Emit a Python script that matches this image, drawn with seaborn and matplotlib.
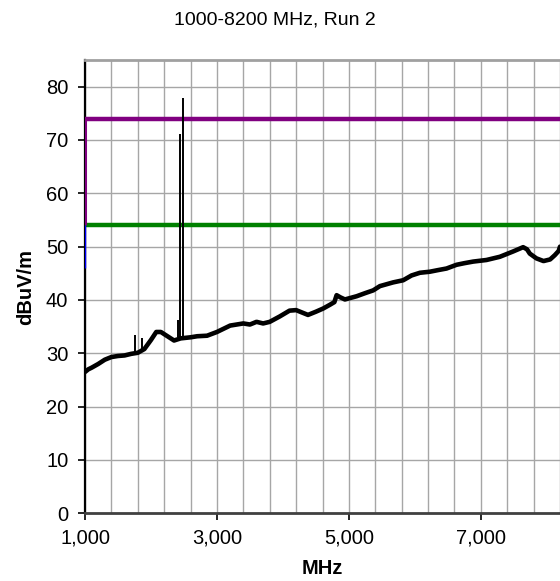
import numpy as np
import pandas as pd
import matplotlib
matplotlib.use("Agg")
import matplotlib.pyplot as plt
from matplotlib.ticker import FuncFormatter, FixedLocator
import seaborn as sns

# ---- data ----
freq_mhz = [1000, 1050, 1100, 1200, 1300, 1400, 1500, 1600, 1700, 1800, 1900, 2000,
            2080, 2150, 2200, 2300, 2350, 2450, 2600, 2700, 2850, 3000, 3100, 3200,
            3300, 3400, 3500, 3600, 3700, 3800, 3950, 4100, 4200, 4300, 4380, 4500,
            4610, 4712, 4780, 4814, 4870, 4940, 5117, 5250, 5368, 5470, 5671, 5823,
            5950, 6076, 6227, 6350, 6480, 6632, 6750, 6884, 7086, 7288, 7490, 7641,
            7700, 7742, 7843, 7950, 8050, 8121, 8180, 8200]
level_dbuv = [26.5, 27.0, 27.3, 28.0, 28.8, 29.3, 29.5, 29.6, 29.9, 30.1, 30.8, 32.5,
              34.0, 34.0, 33.6, 32.8, 32.4, 32.8, 33.0, 33.2, 33.3, 34.0, 34.6, 35.2,
              35.4, 35.6, 35.4, 35.9, 35.6, 35.9, 36.9, 38.0, 38.1, 37.6, 37.2, 37.8,
              38.4, 39.1, 39.6, 40.9, 40.5, 40.1, 40.7, 41.3, 41.8, 42.6, 43.3, 43.7,
              44.6, 45.1, 45.3, 45.6, 45.9, 46.6, 46.9, 47.2, 47.5, 48.1, 49.1, 49.9,
              49.5, 48.7, 47.8, 47.3, 47.6, 48.4, 49.2, 50.0]

spike_freq = [1760, 1860, 2410, 2440, 2480]
spike_base = [30.0, 30.4, 33.0, 33.0, 33.0]
spike_peak = [33.4, 32.8, 36.2, 71.2, 77.8]

limit_peak = 74
limit_avg = 54

title = "1000-8200 MHz, Run 2"
x_label = "MHz"
y_label = "dBuV/m"
x_major = [1000, 3000, 5000, 7000]
x_grid = list(range(1000, 8201, 400))
y_ticks = [0, 10, 20, 30, 40, 50, 60, 70, 80]

# ---- plotting ----
sns.set_style("white")
plt.rcParams["font.family"] = ["Liberation Sans", "DejaVu Sans"]
plt.rcParams["text.color"] = "black"
plt.rcParams["axes.labelcolor"] = "black"

fig = plt.figure(figsize=(5.6, 5.81), dpi=100)
ax = fig.add_axes([85 / 560, 1 - 513.3 / 581, (560 - 85) / 560, (513.3 - 60) / 581])

df = pd.DataFrame({"freq": freq_mhz, "level": level_dbuv})

# limits
ax.hlines(limit_peak, 1000, 8200, color="#800080", lw=3.2, zorder=3)
ax.hlines(limit_avg, 1000, 8200, color="#008000", lw=3.2, zorder=3)
ax.vlines(1000, limit_avg, limit_peak, color="#800080", lw=2.2, zorder=3)
ax.vlines(1000, 46, limit_avg, color="#0000ff", lw=1.0, zorder=3)

sns.lineplot(data=df, x="freq", y="level", ax=ax, color="black", lw=3.3,
             zorder=5, legend=False)
ax.vlines(spike_freq, spike_base, spike_peak, color="black", lw=1.4, zorder=5)

ax.set_xlim(1000, 8200)
ax.set_ylim(0, 85)

ax.xaxis.set_major_locator(FixedLocator(x_major))
ax.xaxis.set_minor_locator(FixedLocator(x_grid))
ax.xaxis.set_major_formatter(FuncFormatter(lambda v, p: f"{v:,.0f}"))
ax.set_yticks(y_ticks)

ax.grid(False)
for xv in x_grid:
    ax.axvline(xv, color="#a6a6a6", lw=1.0, zorder=1)
for yv in y_ticks[1:]:
    ax.axhline(yv, color="#a6a6a6", lw=1.0, zorder=1)

ax.tick_params(axis="both", which="major", direction="out", length=5, width=1.2,
               color="black", labelsize=14.5, labelcolor="black", pad=6,
               bottom=True, left=True)
ax.tick_params(axis="x", which="minor", length=0)
ax.tick_params(axis="y", pad=7)

ax.spines["right"].set_visible(False)
ax.spines["top"].set_color("#a0a0a0")
ax.spines["top"].set_linewidth(2)
ax.spines["left"].set_color("black")
ax.spines["left"].set_linewidth(1.6)
ax.spines["bottom"].set_color("#404040")
ax.spines["bottom"].set_linewidth(2)

ax.set_xlabel(x_label, fontsize=14.5, fontweight="bold", labelpad=8, color="black")
ax.set_ylabel(y_label, fontsize=14.5, fontweight="bold", labelpad=8, color="black")
fig.text(0.49, 1 - 20 / 581, title, ha="center", va="center", fontsize=14, color="black")

fig.savefig("out.png", dpi=100)
